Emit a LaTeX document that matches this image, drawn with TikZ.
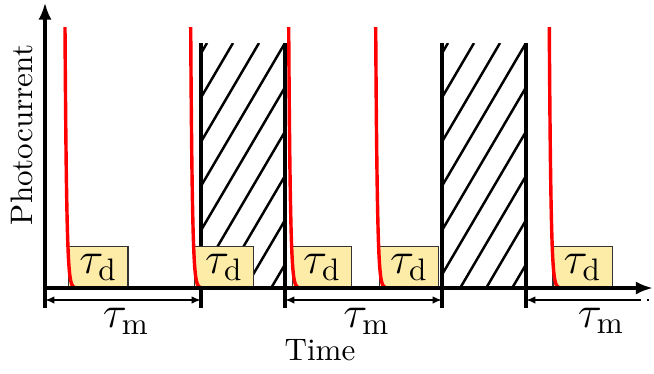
\documentclass[tikz,border=0pt]{standalone}
\usepackage{amsmath}
\usetikzlibrary{arrows.meta}
\definecolor{boxfill}{RGB}{253,236,168}
\begin{document}
\begin{tikzpicture}[x=0.0113cm, y=-0.0113cm, axis/.style={line width=1.2pt, -{Latex[length=5.5pt,width=4.2pt]}}, wall/.style={line width=1pt}, hatch/.style={line width=0.8pt}, spike/.style={red, line width=1.1pt}, tdbox/.style={draw=black!80, line width=0.4pt, fill=boxfill, minimum width=0.67cm, minimum height=0.46cm, inner sep=0pt, anchor=south west, font=\Large}, dim/.style={line width=0.6pt, {Latex[length=3pt,width=2.4pt]}-{Latex[length=3pt,width=2.4pt]}}, lab/.style={font=\Large, below=-1pt}]
\useasboundingbox (0,0) rectangle (654,373);
\foreach \xa/\xb in {201/285, 442/526} {\begin{scope} \clip (\xa,43) rectangle (\xb,288); \foreach \k in {-6,...,4} {\draw[hatch] ({\xb-26*\k},43) -- ++(-145,247);} \end{scope} \draw[wall] (\xa,43) -- (\xa,308); \draw[wall] (\xb,43) -- (\xb,308);}
\foreach \s/\n in {65/a, 190.7/b, 288.7/c, 375.7/d, 549.3/e} {\node[tdbox] (box\n) at ({\s+3},288) {$\tau_\mathrm{d}$}; \draw[spike] plot[domain=0:12, samples=90] ({\s+\x},{288-261*exp(-\x/1.6)});}
\coordinate (origin) at (45,288);
\coordinate (xend) at (653,288);
\coordinate (yend) at (45,2.5);
\draw[axis] (45,308) -- (yend);
\draw[axis] (origin) -- (xend);
\coordinate (w0) at (45,300); \coordinate (w1) at (201,300); \coordinate (w2) at (285,300); \coordinate (w3) at (442,300); \coordinate (w4) at (526,300); \coordinate (w5) at (639,300); \coordinate (w6) at (653,300);
\draw[dim] (w0) -- node[lab, xshift=1pt] (tm1) {$\tau_\mathrm{m}$} (w1);
\draw[dim] (w2) -- node[lab, xshift=1pt] (tm2) {$\tau_\mathrm{m}$} (w3);
\draw[line width=0.6pt, {Latex[length=3pt,width=2.4pt]}-] (w4) -- (w5);
\draw[line width=0.6pt, dotted] (w5) -- (w6);
\node[lab] (tm3) at (601,300) {$\tau_\mathrm{m}$};
\node (time) at (320,350) {Time};
\node[rotate=90] (photo) at (22,135) {Photocurrent};
\end{tikzpicture}
\end{document}
